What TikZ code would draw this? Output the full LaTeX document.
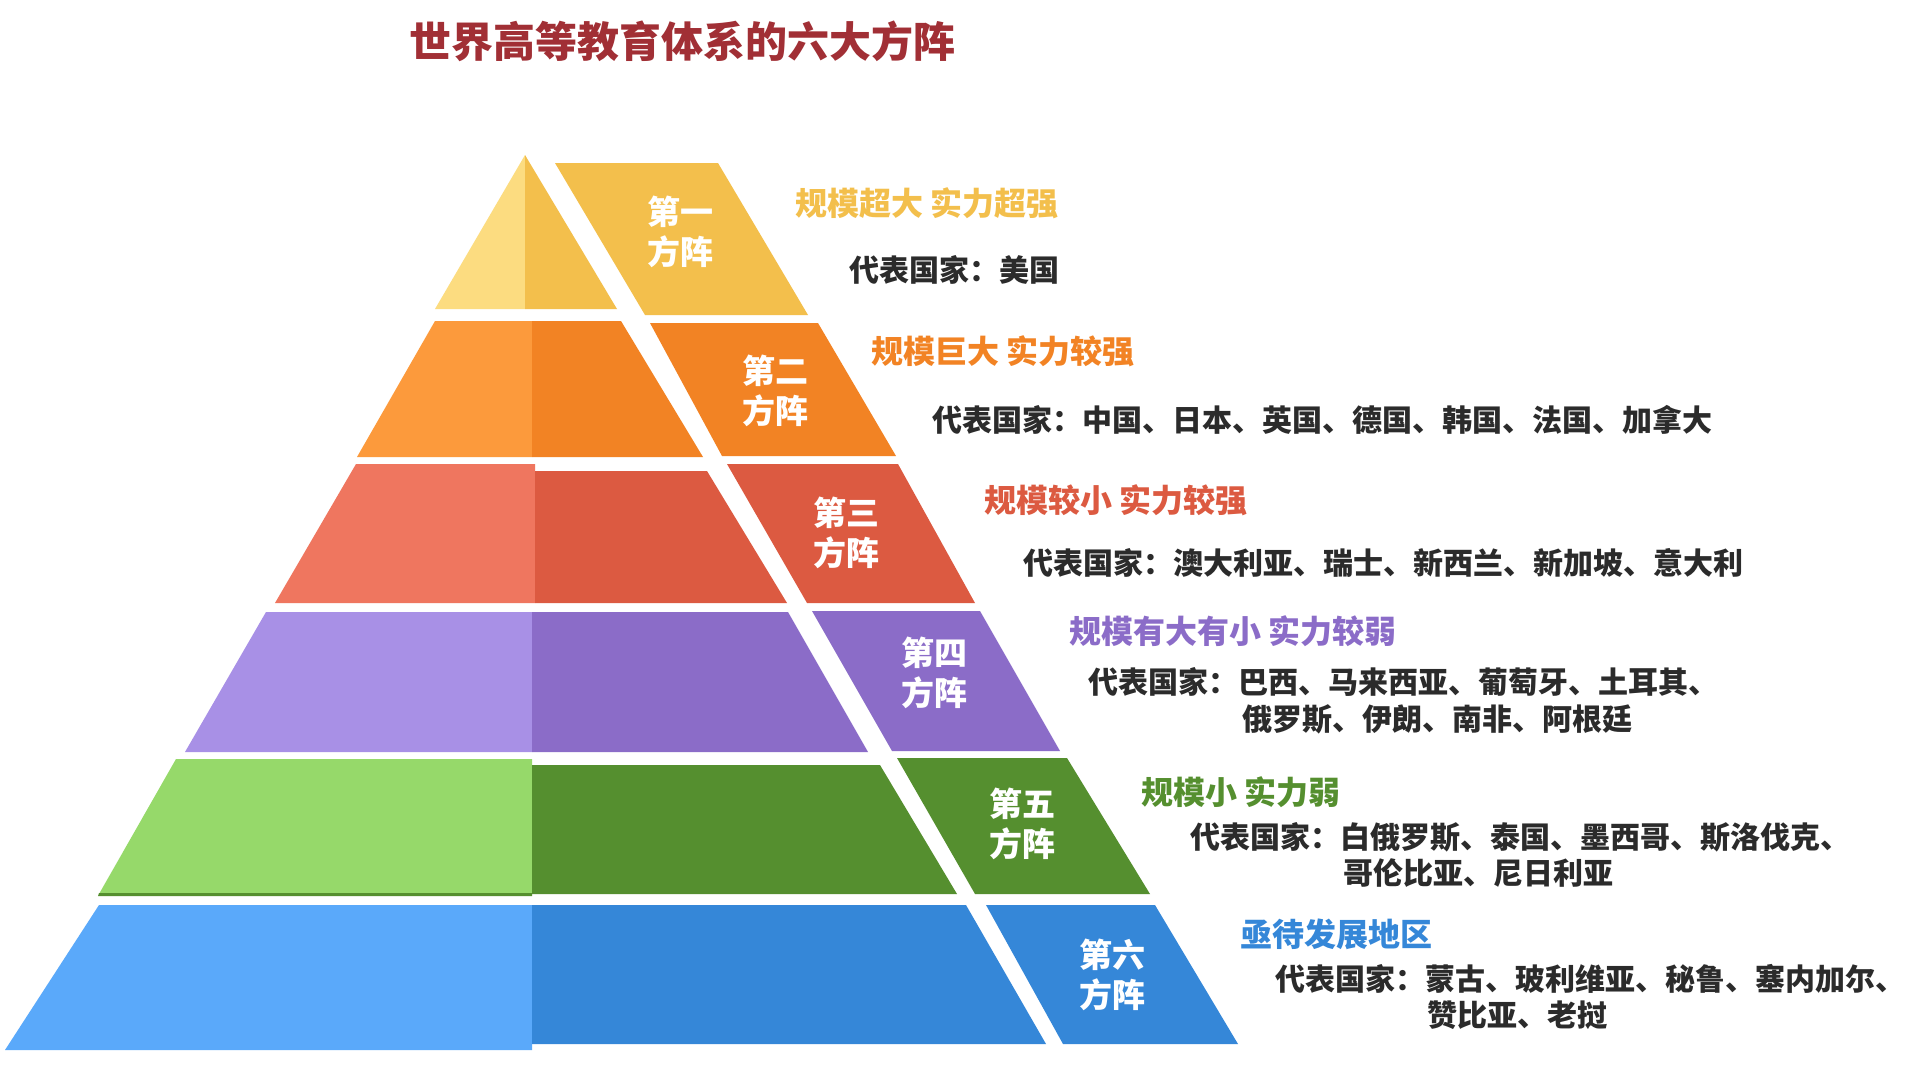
\documentclass[tikz,border=0pt]{standalone}
\usepackage{fontspec}
\setmainfont{Noto Sans CJK SC}
\definecolor{t1l}{HTML}{FCDC80}
\definecolor{t1d}{HTML}{F3BF4C}
\definecolor{t2l}{HTML}{FC9A3C}
\definecolor{t2d}{HTML}{F28324}
\definecolor{t3l}{HTML}{EF765F}
\definecolor{t3d}{HTML}{DC5A41}
\definecolor{t4l}{HTML}{A890E6}
\definecolor{t4d}{HTML}{8B6CC8}
\definecolor{t5l}{HTML}{96D96A}
\definecolor{t5d}{HTML}{558F2F}
\definecolor{t6l}{HTML}{5AA9FA}
\definecolor{t6d}{HTML}{3587D8}
\definecolor{titlec}{HTML}{A12F35}
\definecolor{txt}{HTML}{2B2B2B}
\begin{document}
\begin{tikzpicture}[x=0.5pt,y=-0.5pt,
  lbl/.style={text=white,font=\fontsize{16.5}{20}\selectfont\bfseries,align=center,inner sep=0},
  head/.style={font=\fontsize{16}{19}\selectfont\bfseries,anchor=west,inner sep=0},
  body/.style={text=txt,font=\fontsize{15}{18}\selectfont\bfseries,anchor=west,inner sep=0}]
\useasboundingbox (0,0) rectangle (1910,1065);
\fill[white] (0,0) rectangle (1910,1065);
% tier 1
\fill[t1l] (525,155) -- (525,309) -- (435,309) -- cycle;
\fill[t1d] (525,155) -- (617,309) -- (525,309) -- cycle;
\fill[t1d] (555,163) -- (718,163) -- (808,315) -- (645,315) -- cycle;
% tier 2
\fill[t2l] (435,321) -- (532,321) -- (532,457) -- (357,457) -- cycle;
\fill[t2d] (532,321) -- (621,321) -- (703,457) -- (532,457) -- cycle;
\fill[t2d] (650,323) -- (818,323) -- (896,456) -- (722,456) -- cycle;
% tier 3
\fill[t3l] (356,464) -- (535,464) -- (535,603) -- (275,603) -- cycle;
\fill[t3d] (535,471) -- (707,471) -- (787,603) -- (535,603) -- cycle;
\fill[t3d] (727,464) -- (898,464) -- (975,603) -- (807,603) -- cycle;
% tier 4
\fill[t4l] (266,612) -- (532,612) -- (532,752) -- (185,752) -- cycle;
\fill[t4d] (532,612) -- (788,612) -- (868,752) -- (532,752) -- cycle;
\fill[t4d] (812,611) -- (980,611) -- (1060,751) -- (892,751) -- cycle;
% tier 5
\fill[t5l] (176,759) -- (532,759) -- (532,894) -- (99,894) -- cycle;
\fill[t5d] (99,893) -- (532,893) -- (532,896) -- (98,896) -- cycle;
\fill[t5d] (532,765) -- (880,765) -- (957,894) -- (532,894) -- cycle;
\fill[t5d] (897,758) -- (1067,758) -- (1150,894) -- (975,894) -- cycle;
% tier 6
\fill[t6l] (99,905) -- (532,905) -- (532,1050) -- (5,1050) -- cycle;
\fill[t6d] (532,905) -- (966,905) -- (1046,1044) -- (532,1044) -- cycle;
\fill[t6d] (986,905) -- (1155,905) -- (1238,1044) -- (1063,1044) -- cycle;
% labels
\node[lbl] (l1) at (680,232) {第一\\方阵};
\node[lbl] (l2) at (775,391) {第二\\方阵};
\node[lbl] (l3) at (846,533) {第三\\方阵};
\node[lbl] (l4) at (934,673) {第四\\方阵};
\node[lbl] (l5) at (1022,824) {第五\\方阵};
\node[lbl] (l6) at (1112,975) {第六\\方阵};
% title
\node[text=titlec,font=\fontsize{21}{24}\selectfont\bfseries,inner sep=0] (title) at (682,41) {世界高等教育体系的六大方阵};
% texts
\node[head,text=t1d] (h1) at (795,203) {规模超大 实力超强};
\node[body] (b1) at (849,270) {代表国家：美国};
\node[head,text=t2d] (h2) at (871,351) {规模巨大 实力较强};
\node[body] (b2) at (932,420) {代表国家：中国、日本、英国、德国、韩国、法国、加拿大};
\node[head,text=t3d] (h3) at (984,500) {规模较小 实力较强};
\node[body] (b3) at (1023,563) {代表国家：澳大利亚、瑞士、新西兰、新加坡、意大利};
\node[head,text=t4d] (h4) at (1069,631) {规模有大有小 实力较弱};
\node[body] (b4) at (1088,682) {代表国家：巴西、马来西亚、葡萄牙、土耳其、};
\node[body] (b4b) at (1242,719) {俄罗斯、伊朗、南非、阿根廷};
\node[head,text=t5d] (h5) at (1141,792) {规模小 实力弱};
\node[body] (b5) at (1190,837) {代表国家：白俄罗斯、泰国、墨西哥、斯洛伐克、};
\node[body] (b5b) at (1343,873) {哥伦比亚、尼日利亚};
\node[head,text=t6d] (h6) at (1240,934) {亟待发展地区};
\node[body] (b6) at (1275,979) {代表国家：蒙古、玻利维亚、秘鲁、塞内加尔、};
\node[body] (b6b) at (1427,1015) {赞比亚、老挝};
\end{tikzpicture}
\end{document}
